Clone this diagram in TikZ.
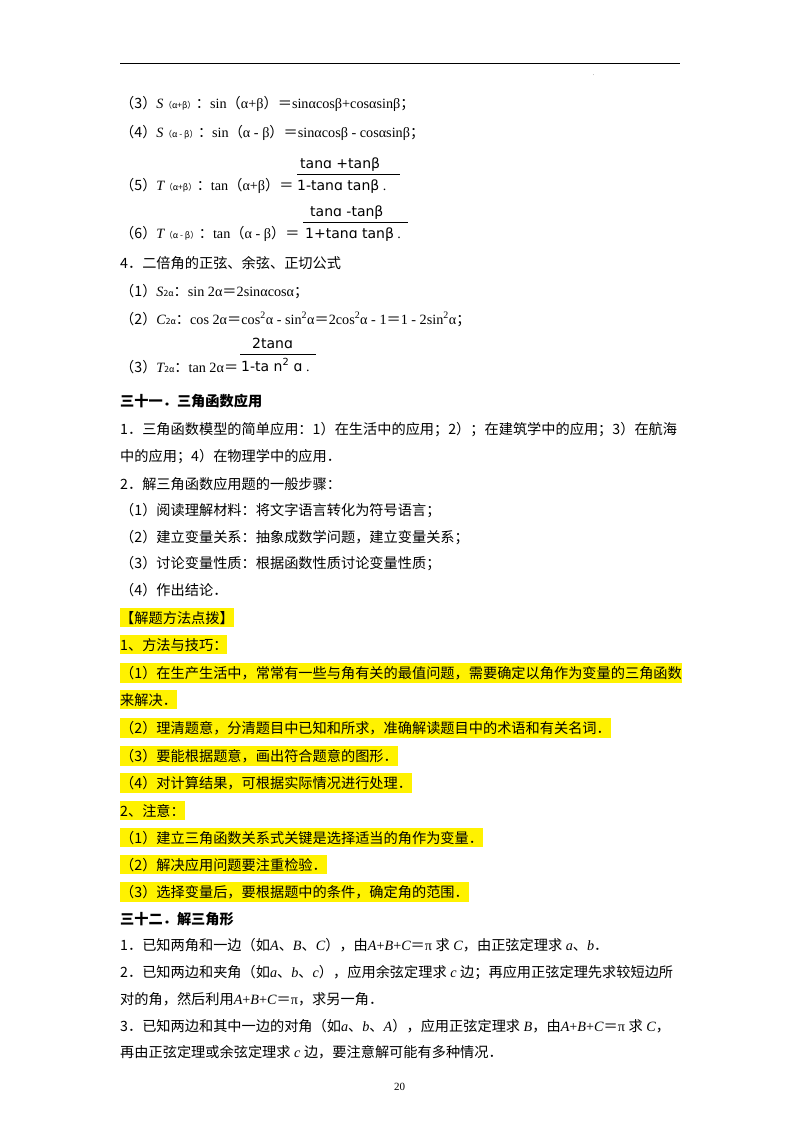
\documentclass[tikz,border=0pt]{standalone}
\usepackage{fontspec}
\setmainfont{Liberation Serif}
\newfontfamily\cjk{Noto Sans CJK SC}
\newfontfamily\ff{DejaVu Sans}
\newcommand{\mi}[1]{{\rmfamily\itshape #1}}
\newcommand{\sbs}[1]{{\fontsize{8.5}{9}\selectfont #1}}
\newcommand{\rmt}[1]{{\rmfamily #1}}
\begin{document}
\begin{tikzpicture}[x=1pt,y=-1pt,
  t/.style={anchor=base west,inner sep=0pt,font=\cjk\fontsize{14.2}{16}\selectfont},
  h/.style={t,fill=yellow,inner ysep=3pt},
  fr/.style={anchor=base west,inner sep=0pt,font=\ff\fontsize{14}{15}\selectfont}]
\useasboundingbox (0,0) rectangle (800,1132);
\fill[white] (0,0) rectangle (800,1132);
\draw[line width=0.8pt] (120,63) coordinate (r1) -- (680,63) coordinate (r2);
\node[t,font=\fontsize{5}{5}\selectfont] (dot) at (593,76) {.};
\node[t] (a3) at (120,108) {（3）\mi{S}\sbs{（α+β）}：\rmt{sin}（\rmt{α+β}）＝\rmt{sinαcosβ+cosαsinβ}；};
\node[t] (a4) at (120,137) {（4）\mi{S}\sbs{（α - β）}：\rmt{sin}（\rmt{α - β}）＝\rmt{sinαcosβ - cosαsinβ}；};
\node[t] (a5) at (120,190) {（5）\mi{T}\sbs{（α+β）}：\rmt{tan}（\rmt{α+β}）＝};
\node[fr] (n5) at (300,168) {tanɑ +tanβ};
\draw[line width=0.8pt] (297,174) coordinate (f5a) -- (400,174) coordinate (f5b);
\node[fr] (d5) at (297,190) {1-tanɑ tanβ\rmt{ .}};
\node[t] (a6) at (120,238) {（6）\mi{T}\sbs{（α - β）}：\rmt{tan}（\rmt{α - β}）＝};
\node[fr] (n6) at (310,216) {tanɑ -tanβ};
\draw[line width=0.8pt] (303,222) coordinate (f6a) -- (408,222) coordinate (f6b);
\node[fr] (d6) at (305,238) {1+tanɑ tanβ\rmt{ .}};
\node[t] (b4) at (120,268) {4．二倍角的正弦、余弦、正切公式};
\node[t] (b1) at (120,296) {（1）\mi{S}\sbs{2α}：\rmt{sin 2α}＝\rmt{2sinαcosα}；};
\node[t] (b2) at (120,324) {（2）\mi{C}\sbs{2α}：\rmt{cos 2α}＝\rmt{cos\textsuperscript{2}α - sin\textsuperscript{2}α}＝\rmt{2cos\textsuperscript{2}α - 1}＝\rmt{1 - 2sin\textsuperscript{2}α}；};
\node[t] (b3) at (120,372) {（3）\mi{T}\sbs{2α}：\rmt{tan 2α}＝};
\node[fr] (n7) at (252,348) {2tanɑ};
\draw[line width=0.8pt] (240,354) coordinate (f7a) -- (316,354) coordinate (f7b);
\node[fr] (d7) at (241,371) {1-ta n\textsuperscript{2} ɑ\rmt{ .}};
\node[t,font=\cjk\bfseries\fontsize{14.2}{16}\selectfont] (c0) at (120,406) {三十一．三角函数应用};
\node[t] (c1) at (120,434) {1．三角函数模型的简单应用：1）在生活中的应用；2）；在建筑学中的应用；3）在航海};
\node[t] (c1b) at (120,461) {中的应用；4）在物理学中的应用．};
\node[t] (c2) at (120,489) {2．解三角函数应用题的一般步骤：};
\node[t] (c3) at (120,515) {（1）阅读理解材料：将文字语言转化为符号语言；};
\node[t] (c4) at (120,542) {（2）建立变量关系：抽象成数学问题，建立变量关系；};
\node[t] (c5) at (120,568) {（3）讨论变量性质：根据函数性质讨论变量性质；};
\node[t] (c6) at (120,595) {（4）作出结论．};
\node[h] (e0) at (120,623) {【解题方法点拨】};
\node[h] (e1) at (120,650) {1、方法与技巧：};
\node[h] (e2) at (120,678) {（1）在生产生活中，常常有一些与角有关的最值问题，需要确定以角作为变量的三角函数};
\node[h] (e2b) at (120,705) {来解决．};
\node[h] (e3) at (120,733) {（2）理清题意，分清题目中已知和所求，准确解读题目中的术语和有关名词．};
\node[h] (e4) at (120,761) {（3）要能根据题意，画出符合题意的图形．};
\node[h] (e5) at (120,788) {（4）对计算结果，可根据实际情况进行处理．};
\node[h] (e6) at (120,816) {2、注意：};
\node[h] (e7) at (120,843) {（1）建立三角函数关系式关键是选择适当的角作为变量．};
\node[h] (e8) at (120,870) {（2）解决应用问题要注重检验．};
\node[h] (e9) at (120,897) {（3）选择变量后，要根据题中的条件，确定角的范围．};
\node[t,font=\cjk\bfseries\fontsize{14.2}{16}\selectfont] (g0) at (120,924) {三十二．解三角形};
\node[t] (g1) at (120,950) {1．已知两角和一边（如\mi{A}、\mi{B}、\mi{C}），由\mi{A}\rmt{+}\mi{B}\rmt{+}\mi{C}＝\rmt{π }求\mi{ C}，由正弦定理求\mi{ a}、\mi{b}．};
\node[t] (g2) at (120,977) {2．已知两边和夹角（如\mi{a}、\mi{b}、\mi{c}），应用余弦定理求\mi{ c }边；再应用正弦定理先求较短边所};
\node[t] (g2b) at (120,1004) {对的角，然后利用\mi{A}\rmt{+}\mi{B}\rmt{+}\mi{C}＝\rmt{π}，求另一角．};
\node[t] (g3) at (120,1031) {3．已知两边和其中一边的对角（如\mi{a}、\mi{b}、\mi{A}），应用正弦定理求\mi{ B}，由\mi{A}\rmt{+}\mi{B}\rmt{+}\mi{C}＝\rmt{π }求\mi{ C}，};
\node[t] (g3b) at (120,1057) {再由正弦定理或余弦定理求\mi{ c }边，要注意解可能有多种情况．};
\node[t,font=\fontsize{11}{12}\selectfont] (pg) at (394,1090) {20};
\end{tikzpicture}
\end{document}
